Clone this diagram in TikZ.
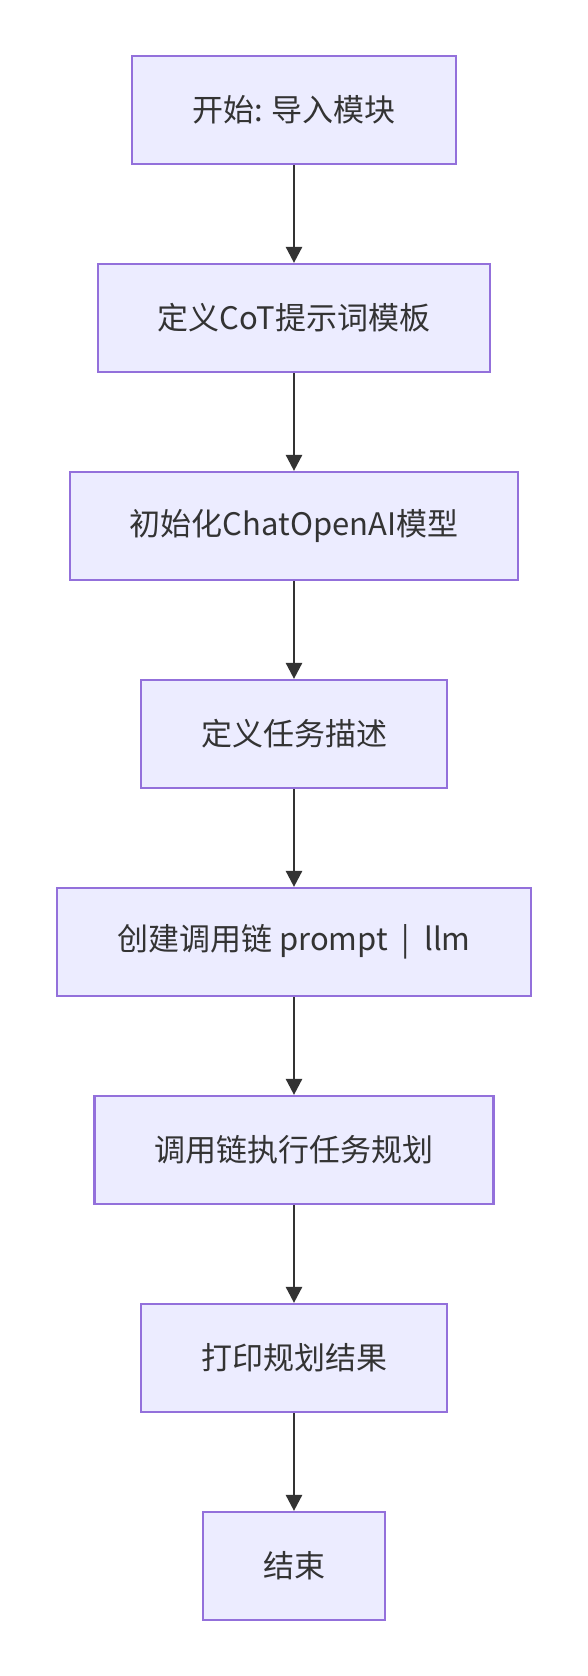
\documentclass[tikz,border=0pt]{standalone}
\usepackage{fontspec}
\setmainfont{Noto Sans CJK SC}
\usetikzlibrary{arrows.meta,positioning}
\definecolor{stepfill}{HTML}{ECECFF}
\definecolor{stepline}{HTML}{9370DB}
\definecolor{inkgray}{HTML}{333333}
\tikzset{
    flow diagram/.style = {>={Triangle[length=16pt, width=16pt]},
                           node distance=97.8pt},
    stepbox/.style      = {draw=stepline, line width=2.2pt, fill=stepfill,
                           text=inkgray, font=\fontsize{31}{36}\selectfont,
                           minimum height=108pt, inner xsep=60pt},
    link/.style         = {->, draw=inkgray, fill=inkgray, line width=2.6pt}
}
\def\pipegap{\hspace{14pt}}

\begin{document}
\begin{tikzpicture}[flow diagram]
\useasboundingbox (0,0) rectangle (587pt,-1676pt);

% Steps of the planning script, top to bottom.
\node[stepbox] (start) at (294pt,-110pt) {开始: 导入模块};
\node[stepbox, below=of start] (template) {定义CoT提示词模板};
\node[stepbox, below=of template] (model) {初始化ChatOpenAI模型};
\node[stepbox, below=of model] (task) {定义任务描述};
\node[stepbox, below=of task] (chain)
    {创建调用链 prompt\pipegap|\pipegap llm};
\node[stepbox, below=of chain] (run) {调用链执行任务规划};
\node[stepbox, below=of run] (print) {打印规划结果};
\node[stepbox, below=of print] (finish) {结束};

% Connectors.
\draw[link] (start) -- (template);
\draw[link] (template) -- (model);
\draw[link] (model) -- (task);
\draw[link] (task) -- (chain);
\draw[link] (chain) -- (run);
\draw[link] (run) -- (print);
\draw[link] (print) -- (finish);

\end{tikzpicture}
\end{document}
